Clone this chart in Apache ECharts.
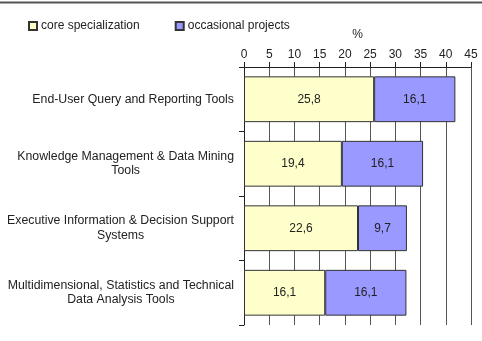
<!DOCTYPE html>
<html>
<head>
<meta charset="utf-8">
<script src="https://cdn.jsdelivr.net/npm/echarts@6/dist/echarts.min.js"></script>
<style>
    html, body { margin: 0; padding: 0; background: #fff; }
    #chart { width: 482px; height: 341px; }
</style>
</head>
<body>
<div id="chart"></div>
<script>
var categories = [
    "End-User Query and Reporting Tools",
    "Knowledge Management & Data Mining\nTools",
    "Executive Information & Decision Support\nSystems",
    "Multidimensional, Statistics and Technical\nData Analysis Tools"
];
var coreValues = [25.8, 19.4, 22.6, 16.1];
var occasionalValues = [16.1, 16.1, 9.7, 16.1];
var seriesNames = ["core specialization", "occasional projects"];

var chart = echarts.init(document.getElementById("chart"));

// decimal comma like the original
function commaLabel(p) {
    return String(p.value).replace(".", ",");
}

// each line centred inside the label block
function centredLines(val) {
    return val.split("\n").map(function (s) { return "{c|" + s + "}"; }).join("\n");
}

var options = {
    animation: false,
    textStyle: { fontFamily: "Liberation Sans, Arial, sans-serif" },
    graphic: [
        {
            type: "line",
            shape: { x1: 0, y1: 2.5, x2: 482, y2: 2.5 },
            style: { stroke: "#555", lineWidth: 2 }
        }
    ],
    legend: {
        left: 23,
        top: 15,
        itemWidth: 8,
        itemHeight: 8,
        itemGap: 35,
        icon: "rect",
        textStyle: { fontSize: 12, color: "#222", padding: [0, 0, 0, -1] },
        data: seriesNames
    },
    grid: {
        left: 244,
        right: 11,
        top: 67,
        bottom: 16
    },
    xAxis: {
        type: "value",
        position: "top",
        min: 0,
        max: 45,
        interval: 5,
        name: "%",
        nameLocation: "middle",
        nameGap: 26,
        nameTextStyle: { fontSize: 12, color: "#222" },
        axisLine: { show: true, lineStyle: { color: "#222", width: 1 } },
        axisTick: { show: true, length: 5, lineStyle: { color: "#222" } },
        axisLabel: { fontSize: 12, color: "#222", margin: 6 },
        splitLine: { show: true, lineStyle: { color: "#555", width: 1 } }
    },
    yAxis: {
        type: "category",
        inverse: true,
        data: categories,
        axisLine: { show: true, lineStyle: { color: "#222" } },
        axisTick: { show: true, length: 5, lineStyle: { color: "#222" } },
        axisLabel: {
            fontSize: 12.3,
            color: "#222",
            margin: 10,
            lineHeight: 14.5,
            align: "right",
            formatter: centredLines,
            rich: { c: { fontSize: 12.3, color: "#222", lineHeight: 14.5, align: "center" } }
        }
    },
    series: [
        {
            name: seriesNames[0],
            type: "bar",
            stack: "total",
            barWidth: "71%",
            data: coreValues,
            itemStyle: { color: "#FFFFCC", borderColor: "#333", borderWidth: 1 },
            label: { show: true, position: "inside", fontSize: 12, color: "#222", formatter: commaLabel }
        },
        {
            name: seriesNames[1],
            type: "bar",
            stack: "total",
            barWidth: "71%",
            data: occasionalValues,
            itemStyle: { color: "#9999FF", borderColor: "#333", borderWidth: 1 },
            label: { show: true, position: "inside", fontSize: 12, color: "#222", formatter: commaLabel }
        }
    ]
};
chart.setOption(options, true);
</script>
</body>
</html>
